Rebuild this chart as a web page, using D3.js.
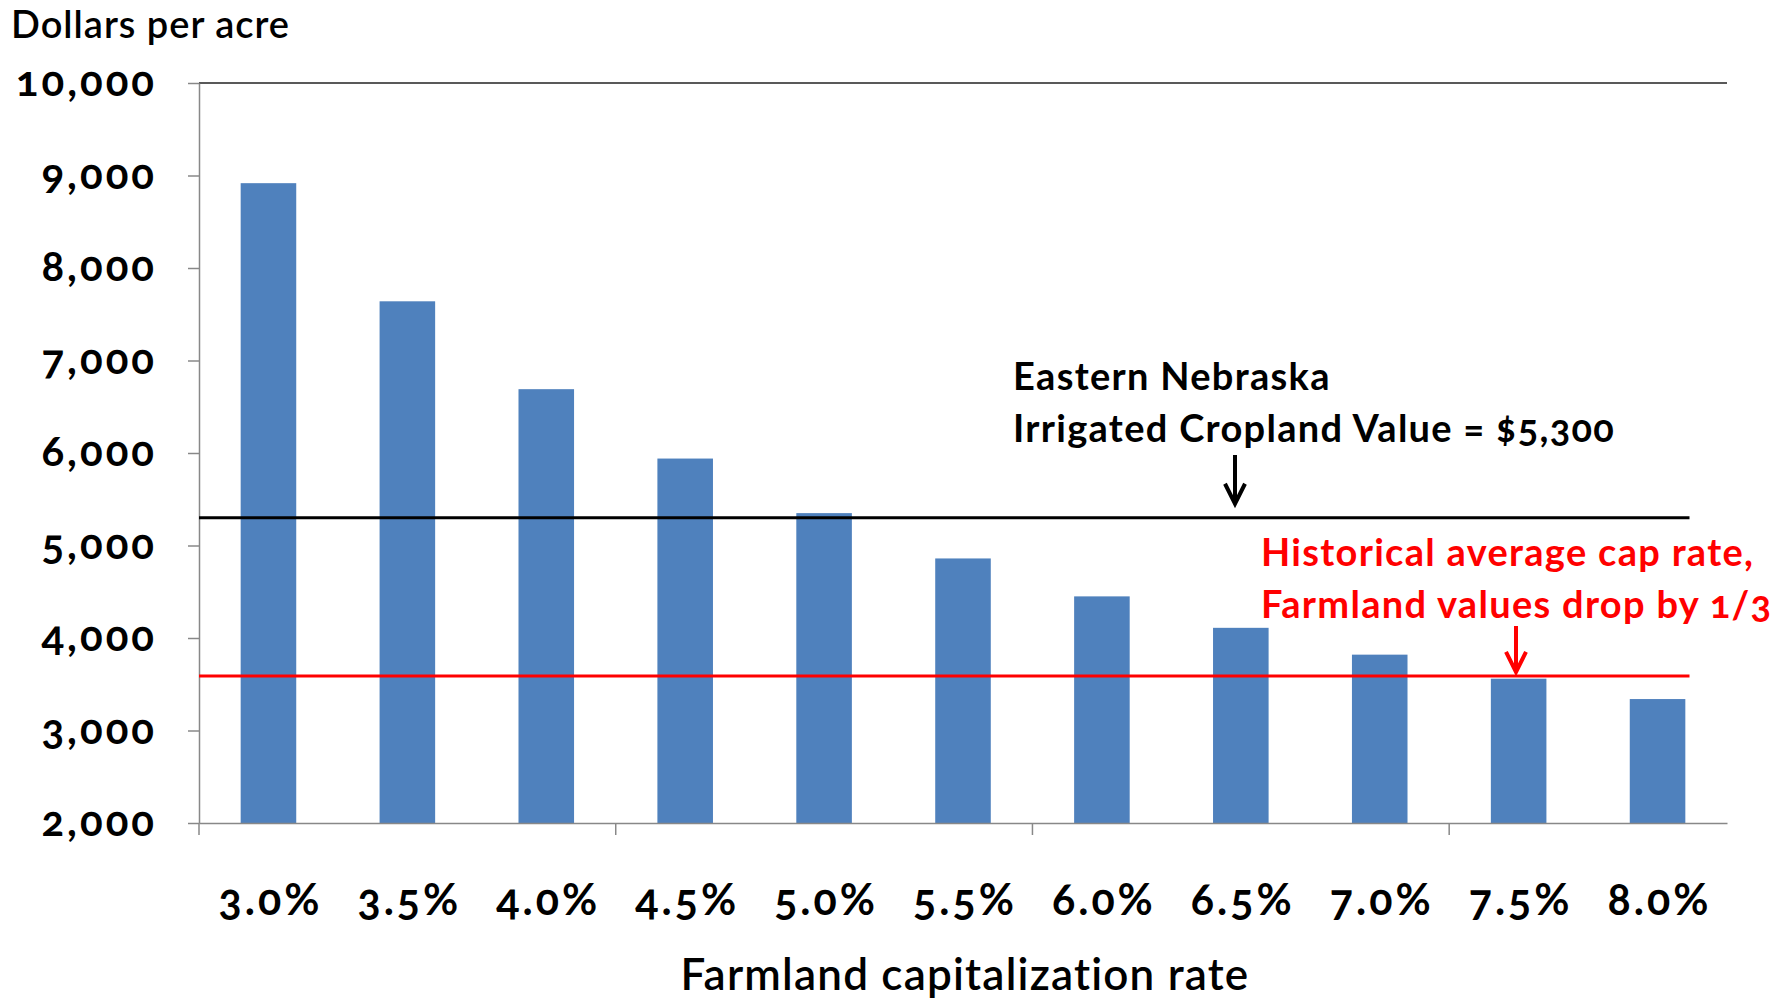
<!DOCTYPE html>
<html>
<head>
<meta charset="utf-8">
<script src="https://cdn.jsdelivr.net/npm/d3@7"></script>
<style>
  body { margin: 0; background: #fff; }
  text { font-family: Lato, "Open Sans", sans-serif; font-variant-numeric: oldstyle-nums; }
</style>
</head>
<body>
<script>
// Data
const capRates = ["3.0%", "3.5%", "4.0%", "4.5%", "5.0%", "5.5%", "6.0%", "6.5%", "7.0%", "7.5%", "8.0%"];
const landValues = [8917, 7640, 6690, 5940, 5350, 4860, 4450, 4110, 3820, 3560, 3340];
const yTicks = [2000, 3000, 4000, 5000, 6000, 7000, 8000, 9000, 10000];
const cropValue = 5300;      // black reference line
const historicalValue = 3590; // red reference line

const svgWidth = 1785;
const svgHeight = 1000;
const margin = { top: 83, right: 58, bottom: 177, left: 199 };

const svg = d3.select('body')
    .append('svg')
    .attr('width', svgWidth)
    .attr('height', svgHeight);

const xScale = d3.scaleBand()
    .domain(capRates)
    .range([margin.left, svgWidth - margin.right])
    .paddingInner(0.6)
    .paddingOuter(0.3);

const yScale = d3.scaleLinear()
    .domain([2000, 10000])
    .range([svgHeight - margin.bottom, margin.top]);

const x0 = margin.left;
const x1 = svgWidth - margin.right;
const yBase = yScale(2000);

// Top border
svg.append('line')
    .attr('x1', x0).attr('x2', x1)
    .attr('y1', yScale(10000)).attr('y2', yScale(10000))
    .attr('stroke', '#222').attr('stroke-width', 1.5);

// Bars
svg.selectAll('.bar')
    .data(landValues)
    .enter()
    .append('rect')
    .attr('class', 'bar')
    .attr('x', (d, i) => xScale(capRates[i]))
    .attr('y', d => yScale(d))
    .attr('width', xScale.bandwidth())
    .attr('height', d => yBase - yScale(d))
    .attr('fill', '#4f81bd');

// Y-axis
const yAxis = svg.append('g')
    .attr('transform', `translate(${x0},0)`)
    .call(d3.axisLeft(yScale).tickValues(yTicks).tickFormat(d3.format(',')).tickSize(11).tickPadding(31).tickSizeOuter(0));
yAxis.select('.domain').attr('stroke', '#888').attr('stroke-width', 1.5);
yAxis.selectAll('.tick line').attr('stroke', '#888').attr('stroke-width', 1.5);
yAxis.selectAll('.tick text')
    .attr('font-size', 42).attr('font-weight', 700).attr('fill', '#000')
    .attr('letter-spacing', 3)
    .attr('dy', '0.3em');

// X-axis
const xAxis = svg.append('g')
    .attr('transform', `translate(0,${yBase})`)
    .call(d3.axisBottom(xScale).tickSize(0).tickSizeOuter(0));
xAxis.select('.domain').attr('stroke', '#888').attr('stroke-width', 1.5);
xAxis.selectAll('.tick text')
    .attr('y', 92).attr('dy', 0).attr('dx', 2)
    .attr('font-size', 43).attr('font-weight', 700).attr('fill', '#000')
    .attr('letter-spacing', 3);

// Category boundary tick marks, every third category
const step = xScale.step();
xAxis.selectAll('.boundary')
    .data([0, 3, 6, 9])
    .enter()
    .append('line')
    .attr('x1', d => x0 + d * step)
    .attr('x2', d => x0 + d * step)
    .attr('y1', 0).attr('y2', 12)
    .attr('stroke', '#888').attr('stroke-width', 1.5);

// Axis titles
svg.append('text')
    .attr('x', 11).attr('y', 38)
    .attr('font-size', 38).attr('font-weight', 600)
    .attr('letter-spacing', 1)
    .text('Dollars per acre');

svg.append('text')
    .attr('x', 965).attr('y', 990)
    .attr('text-anchor', 'middle')
    .attr('font-size', 44).attr('font-weight', 600)
    .attr('letter-spacing', 1.2)
    .text('Farmland capitalization rate');

// Reference lines
const lineEnd = x0 + 10.73 * step;
svg.append('line')
    .attr('x1', x0).attr('x2', lineEnd)
    .attr('y1', yScale(cropValue)).attr('y2', yScale(cropValue))
    .attr('stroke', '#000').attr('stroke-width', 3);

svg.append('line')
    .attr('x1', x0).attr('x2', lineEnd)
    .attr('y1', yScale(historicalValue)).attr('y2', yScale(historicalValue))
    .attr('stroke', '#ff0000').attr('stroke-width', 3);

// Annotations
function arrow(x, yTop, yTip, color) {
    svg.append('line')
        .attr('x1', x).attr('x2', x)
        .attr('y1', yTop).attr('y2', yTip - 2)
        .attr('stroke', color).attr('stroke-width', 4);
    svg.append('path')
        .attr('d', `M${x - 10},${yTip - 20} L${x},${yTip} L${x + 10},${yTip - 20}`)
        .attr('fill', 'none').attr('stroke', color).attr('stroke-width', 4);
}

const black = svg.append('text')
    .attr('font-size', 38).attr('font-weight', 700).attr('fill', '#000')
    .attr('letter-spacing', 1.3);
black.append('tspan').attr('x', 1013).attr('y', 390).text('Eastern Nebraska');
black.append('tspan').attr('x', 1013).attr('y', 442).text('Irrigated Cropland Value = $5,300');
arrow(1235, 455, yScale(cropValue) - 14, '#000');

const red = svg.append('text')
    .attr('font-size', 38).attr('font-weight', 700).attr('fill', '#ff0000')
    .attr('letter-spacing', 1.3);
red.append('tspan').attr('x', 1261).attr('y', 566).text('Historical average cap rate,');
red.append('tspan').attr('x', 1261).attr('y', 618).text('Farmland values drop by 1/3');
arrow(1516, 626, yScale(historicalValue) - 4, '#ff0000');
</script>
</body>
</html>
